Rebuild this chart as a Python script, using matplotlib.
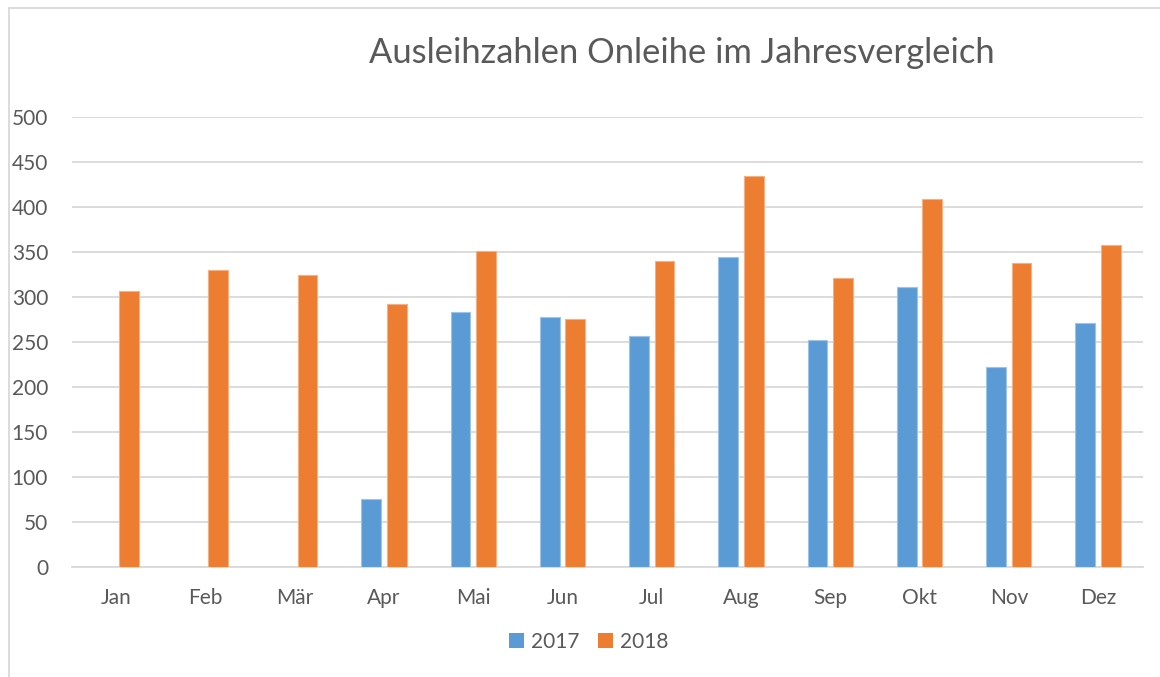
import numpy as np
import matplotlib
matplotlib.use("Agg")
import matplotlib.pyplot as plt
import matplotlib.patches as mpatches
from matplotlib.lines import Line2D

# ── Data ──────────────────────────────────────────────────────────────────
MONTHS = ["Jan", "Feb", "Mär", "Apr", "Mai", "Jun",
          "Jul", "Aug", "Sep", "Okt", "Nov", "Dez"]
VALUES_2017 = [0, 0, 0, 76, 283, 278, 257, 344, 252, 311, 222, 271]
VALUES_2018 = [307, 330, 325, 292, 351, 276, 340, 435, 321, 409, 338, 358]
SERIES_LABELS = ["2017", "2018"]
Y_TICKS = [0, 50, 100, 150, 200, 250, 300, 350, 400, 450, 500]

# ── Styling ───────────────────────────────────────────────────────────────
BLUE = "#5B9BD5"
ORANGE = "#ED7D31"
GRID = "#D9D9D9"
TEXT = "#595959"
FONT = ["Lato", "DejaVu Sans"]

plt.rcParams["font.family"] = FONT

W, H = 1160, 677
fig = plt.figure(figsize=(W / 100, H / 100), dpi=100)

# chart frame (left and top edges visible, rest cropped)
fig.add_artist(Line2D([8.5 / W, 8.5 / W], [0, 1 - 7.5 / H],
                      transform=fig.transFigure, color="#D9D9D9", lw=1.3))
fig.add_artist(Line2D([8.5 / W, 1], [1 - 7.5 / H, 1 - 7.5 / H],
                      transform=fig.transFigure, color="#D9D9D9", lw=1.3))

# axes placement in pixels: x 71.7..1142.7, y (0) 567 .. (500) 117
left, right = 71.7, 1142.7
bottom, top = 567, 117
ax = fig.add_axes([left / W, 1 - bottom / H, (right - left) / W, (bottom - top) / H])

x = np.arange(len(MONTHS))
bw = 0.222
off = 0.143
ax.bar(x - off, VALUES_2017, bw, color=BLUE, edgecolor="#9DC3E6",
       linewidth=0.8, zorder=3)
ax.bar(x + off, VALUES_2018, bw, color=ORANGE, edgecolor="#F4B183",
       linewidth=0.8, zorder=3)

ax.set_xlim(-0.5, len(MONTHS) - 0.5)
ax.set_ylim(0, 500)
ax.set_yticks(Y_TICKS)
ax.set_xticks(x)
ax.set_xticklabels(MONTHS)
ax.tick_params(axis="both", length=0, labelsize=15, colors=TEXT)
ax.tick_params(axis="x", pad=15)
ax.tick_params(axis="y", pad=17)
ax.yaxis.grid(True, color=GRID, linewidth=1.3, zorder=0)
ax.set_axisbelow(True)
for s in ["left", "right", "top"]:
    ax.spines[s].set_visible(False)
ax.spines["bottom"].set_color(GRID)
ax.spines["bottom"].set_linewidth(1.3)

fig.text(682 / W, 1 - 53 / H, "Ausleihzahlen Onleihe im Jahresvergleich",
         ha="center", va="center", fontsize=24.8, color=TEXT)

handles = [mpatches.Patch(facecolor=c, label=l, linewidth=0)
           for c, l in zip([BLUE, ORANGE], SERIES_LABELS)]
fig.legend(handles=handles, loc="center", bbox_to_anchor=(589 / W, 1 - 642 / H),
           ncol=2, frameon=False, fontsize=15, handlelength=0.7,
           handleheight=0.7, handletextpad=0.35, columnspacing=0.9,
           labelcolor=TEXT)

fig.savefig("out.png", dpi=100, facecolor="white")
